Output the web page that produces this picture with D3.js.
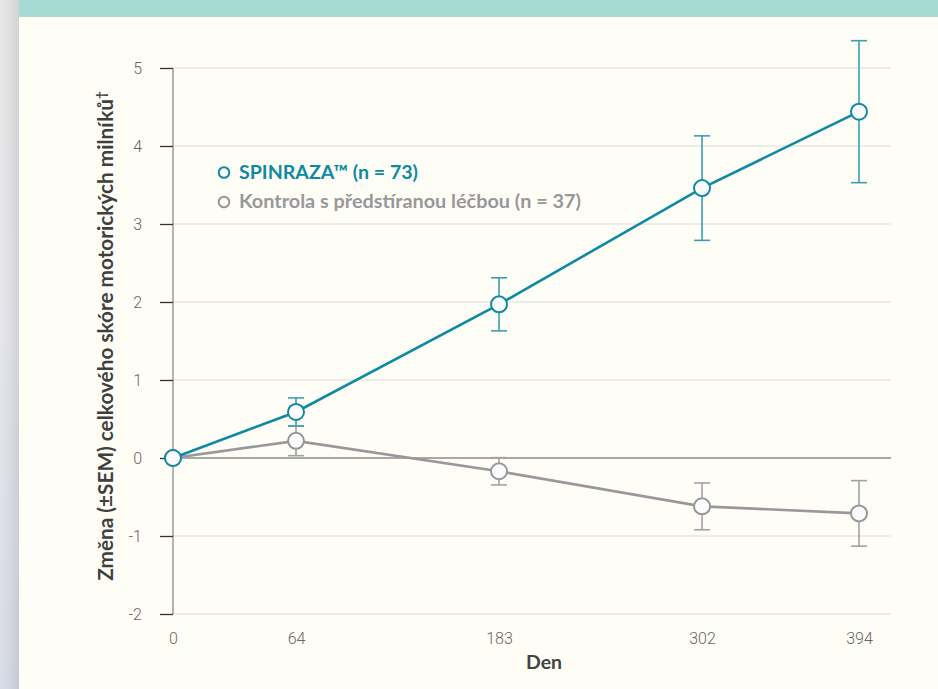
<!DOCTYPE html>
<html>
<head>
<meta charset="utf-8">
<script src="https://cdn.jsdelivr.net/npm/d3@7"></script>
<style>
  html, body { margin: 0; padding: 0; background: #fefdf6; }
  svg { display: block; }
</style>
</head>
<body>
<svg id="chart" width="938" height="689"></svg>
<script>
// Days of assessment
const days = [0, 64, 183, 302, 394];
const xTickLabels = ["0", "64", "183", "302", "394"];
const yTicks = [-2, -1, 0, 1, 2, 3, 4, 5];

// Mean change from baseline and SEM
const spinrazaMean = [0, 0.59, 1.97, 3.46, 4.44];
const spinrazaSem  = [0, 0.18, 0.34, 0.67, 0.91];
const shamMean = [0, 0.22, -0.17, -0.62, -0.71];
const shamSem  = [0, 0.19, 0.175, 0.30, 0.42];

const seriesNames = ["SPINRAZA\u2122 (n = 73)", "Kontrola s p\u0159edst\u00edranou l\u00e9\u010dbou (n = 37)"];
const yLabel = "Zm\u011bna (\u00b1SEM) celkov\u00e9ho sk\u00f3re motorick\u00fdch miln\u00edk\u016f";
const yLabelMark = "\u2020";
const xLabel = "Den";

const teal = "#0f8aa4", tealLight = "#3a9fb4";
const grey = "#98989b", greyLight = "#a3a3a6";

const svg = d3.select("#chart");
const W = 938, H = 689;

// page chrome: side strip and top banner
const defs = svg.append("defs");
const g1 = defs.append("linearGradient").attr("id", "strip").attr("x1", 0).attr("y1", 0).attr("x2", 0).attr("y2", 1);
g1.append("stop").attr("offset", "0%").attr("stop-color", "#e4e3e1");
g1.append("stop").attr("offset", "45%").attr("stop-color", "#e3e3e8");
g1.append("stop").attr("offset", "100%").attr("stop-color", "#d3d7e2");
const g2 = defs.append("linearGradient").attr("id", "stripEdge").attr("x1", 0).attr("y1", 0).attr("x2", 1).attr("y2", 0);
g2.append("stop").attr("offset", "0%").attr("stop-color", "#ffffff").attr("stop-opacity", 0.15);
g2.append("stop").attr("offset", "100%").attr("stop-color", "#9aa0ad").attr("stop-opacity", 0.25);

svg.append("rect").attr("x", 0).attr("y", 0).attr("width", W).attr("height", H).attr("fill", "#fefdf6");
svg.append("rect").attr("x", 0).attr("y", 0).attr("width", 19).attr("height", H).attr("fill", "url(#strip)");
svg.append("rect").attr("x", 0).attr("y", 0).attr("width", 19).attr("height", H).attr("fill", "url(#stripEdge)");
svg.append("rect").attr("x", 19).attr("y", 0).attr("width", W - 19).attr("height", 17).attr("fill", "#a6dbd3");

// scales
const x = d3.scaleLinear().domain([0, 64, 394]).range([173, 296, 859]);
const y = d3.scaleLinear().domain([-2, 5]).range([614, 68]);
const gridRight = 891;

const font = "Lato, 'Open Sans', sans-serif";

// scale a text's font size so it spans the given width
function fitWidth(sel, width) {
  const node = sel.node();
  const fs = parseFloat(sel.style("font-size"));
  const w = node.getComputedTextLength();
  if (w > 0) sel.style("font-size", (fs * width / w).toFixed(2) + "px");
  return sel;
}

// gridlines
svg.append("g").selectAll("line").data(yTicks.filter(d => d !== 0)).join("line")
  .attr("x1", x(0)).attr("x2", gridRight)
  .attr("y1", d => y(d)).attr("y2", d => y(d))
  .attr("stroke", "#dcdcda").attr("stroke-width", 1);

// zero line
svg.append("line").attr("x1", x(0)).attr("x2", gridRight)
  .attr("y1", y(0)).attr("y2", y(0))
  .attr("stroke", "#555555").attr("stroke-width", 1.2);

// y axis
const yAxis = d3.axisLeft(y).tickValues(yTicks).tickSize(13).tickPadding(18)
  .tickFormat(d => String(d));
const gy = svg.append("g").attr("transform", `translate(${x(0)},0)`).call(yAxis);
gy.select(".domain").attr("stroke", "#8c8c8c").attr("stroke-width", 1.3).attr("d", `M0,${y(5)}V${y(-2)}`);
gy.selectAll(".tick line").attr("stroke", "#333").attr("stroke-width", 1.3);
gy.selectAll(".tick text").attr("fill", "#666").style("font-family", "Roboto, sans-serif")
  .style("font-weight", 300).style("font-size", "16px");

// x axis labels (no line, no ticks)
const xAxis = d3.axisBottom(x).tickValues(days).tickSize(0).tickPadding(19)
  .tickFormat((d, i) => xTickLabels[i]);
const gx = svg.append("g").attr("transform", `translate(0,${y(-2)})`).call(xAxis);
gx.select(".domain").remove();
gx.selectAll(".tick text").attr("fill", "#666").style("font-family", "Roboto, sans-serif")
  .style("font-weight", 300).style("font-size", "16px");

// axis titles
const xt = svg.append("text").attr("x", 544).attr("y", 669).attr("text-anchor", "middle")
  .style("font-family", font).style("font-weight", 700).style("font-size", "17px")
  .attr("fill", "#444").text(xLabel);
fitWidth(xt, 36);

const yt = svg.append("text").attr("transform", `translate(113,336) rotate(-90)`).attr("text-anchor", "middle")
  .style("font-family", font).style("font-weight", 700).style("font-size", "18px")
  .attr("fill", "#3f3f3f");
yt.append("tspan").text(yLabel);
yt.append("tspan").attr("dy", -7).style("font-size", "0.65em").text(yLabelMark);
fitWidth(yt, 490);

// series
function drawSeries(mean, sem, color, light) {
  const pts = days.map((d, i) => ({ d, m: mean[i], s: sem[i] }));
  const g = svg.append("g");
  g.append("path").datum(pts)
    .attr("d", d3.line().x(p => x(p.d)).y(p => y(p.m)))
    .attr("fill", "none").attr("stroke", color).attr("stroke-width", 2.6);
  const eb = g.selectAll("g.eb").data(pts.filter(p => p.s > 0)).join("g").attr("class", "eb");
  eb.append("line").attr("x1", p => x(p.d)).attr("x2", p => x(p.d))
    .attr("y1", p => y(p.m + p.s)).attr("y2", p => y(p.m - p.s))
    .attr("stroke", light).attr("stroke-width", 1.6);
  [1, -1].forEach(sign => {
    eb.append("line").attr("x1", p => x(p.d) - 8).attr("x2", p => x(p.d) + 8)
      .attr("y1", p => y(p.m + sign * p.s)).attr("y2", p => y(p.m + sign * p.s))
      .attr("stroke", light).attr("stroke-width", 1.6);
  });
  g.selectAll("circle").data(pts).join("circle")
    .attr("cx", p => x(p.d)).attr("cy", p => y(p.m)).attr("r", 8)
    .attr("fill", "#fbfbfd").attr("stroke", color).attr("stroke-width", 2);
}
drawSeries(shamMean, shamSem, grey, greyLight);
drawSeries(spinrazaMean, spinrazaSem, teal, tealLight);

// legend
const legend = svg.append("g");
[[teal, seriesNames[0], 172.5, 179], [grey, seriesNames[1], 202, 342]].forEach(([c, t, ly, w]) => {
  legend.append("circle").attr("cx", 224).attr("cy", ly).attr("r", 5.3)
    .attr("fill", "none").attr("stroke", c).attr("stroke-width", 2);
  const lt = legend.append("text").attr("x", 239).attr("y", ly + 6.3)
    .style("font-family", font).style("font-weight", 700).style("font-size", "18px")
    .attr("fill", c).text(t);
  fitWidth(lt, w);
});
</script>
</body>
</html>
